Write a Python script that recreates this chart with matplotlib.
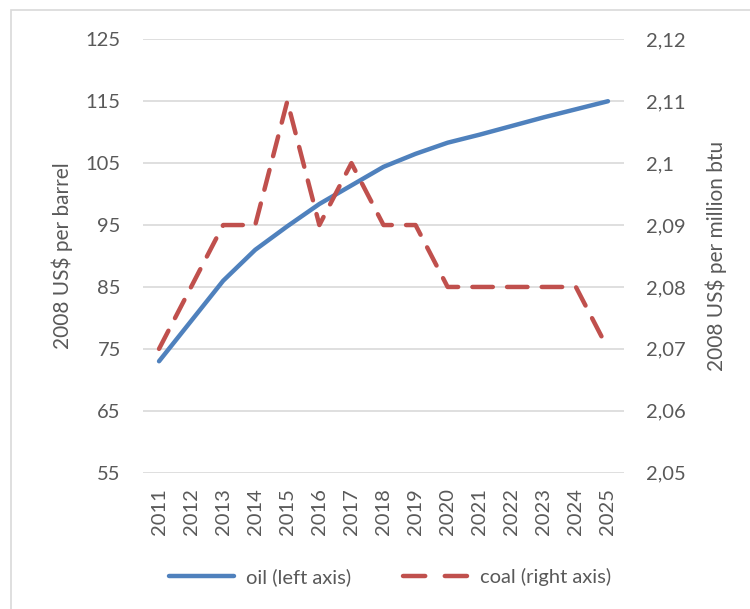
import matplotlib
matplotlib.use("Agg")
import matplotlib.pyplot as plt
from matplotlib.lines import Line2D
from matplotlib.patches import Rectangle
from matplotlib.ticker import FuncFormatter

plt.rcParams['font.family'] = ['Lato', 'DejaVu Sans']

years = ['2011', '2012', '2013', '2014', '2015', '2016', '2017', '2018',
         '2019', '2020', '2021', '2022', '2023', '2024', '2025']
oil = [73, 79.5, 86, 91, 94.8, 98.4, 101.4, 104.4, 106.5, 108.3,
       109.6, 111.0, 112.4, 113.7, 115.0]
coal = [2.07, 2.08, 2.09, 2.09, 2.11, 2.09, 2.10, 2.09, 2.09, 2.08,
        2.08, 2.08, 2.08, 2.08, 2.07]

oil_color = '#4F81BD'
coal_color = '#C0504D'
text_color = '#595959'
grid_color = '#D9D9D9'
fs = 14.5

W, H = 750, 609
fig = plt.figure(figsize=(W / 100, H / 100), dpi=100)

# chart area frame
fig.patches.append(Rectangle((11 / W, -0.1), 1.2, 1 - 10 / H + 0.1,
                             transform=fig.transFigure, fill=False,
                             edgecolor=grid_color, linewidth=1.2))

ax = fig.add_axes([143 / W, 1 - 472.7 / H, (624 - 143) / W, (472.7 - 39.3) / H])
ax2 = ax.twinx()

x = list(range(len(years)))
l1, = ax.plot(x, oil, color=oil_color, linewidth=3.2,
              solid_capstyle='round', solid_joinstyle='round', zorder=3)
l2, = ax2.plot(x, coal, color=coal_color, linewidth=3.2,
               linestyle=(0, (4.6, 3.2)), dash_capstyle='round',
               dash_joinstyle='round', zorder=3)

ax.set_xlim(-0.5, len(years) - 0.5)
ax.set_ylim(55, 125)
ax.set_yticks(range(55, 126, 10))
ax2.set_ylim(2.05, 2.12)
ax2.set_yticks([2.05, 2.06, 2.07, 2.08, 2.09, 2.10, 2.11, 2.12])
ax2.yaxis.set_major_formatter(
    FuncFormatter(lambda v, p: f"{round(v, 2):g}".replace('.', ',')))

ax.set_xticks(x)
ax.set_xticklabels(years, rotation=90)

ax.grid(axis='y', color=grid_color, linewidth=1.2)
ax.set_axisbelow(True)
for a in (ax, ax2):
    for s in a.spines.values():
        s.set_visible(False)
    a.tick_params(length=0, labelsize=fs, colors=text_color)
ax.tick_params(axis='y', pad=16)
ax2.tick_params(axis='y', pad=16)
ax.tick_params(axis='x', pad=11)

ax.set_ylabel('2008 US$ per barrel', fontsize=fs + 0.5, color=text_color, labelpad=9)
ax2.set_ylabel('2008 US$ per million btu', fontsize=fs + 0.5, color=text_color, labelpad=14)

# legend key for coal: two dashes only
coal_key = Line2D([], [], color=coal_color, linewidth=3.2,
                  linestyle=(0, (5.0, 4.4)), dash_capstyle='round')
fig.legend([l1, coal_key], ['oil (left axis)', 'coal (right axis)'], ncol=2,
           loc='center', bbox_to_anchor=(390 / W, 1 - 577 / H), frameon=False,
           fontsize=fs, labelcolor=text_color, handlelength=3.2,
           columnspacing=2.6, handletextpad=0.6)

fig.savefig('out.png', dpi=100)
